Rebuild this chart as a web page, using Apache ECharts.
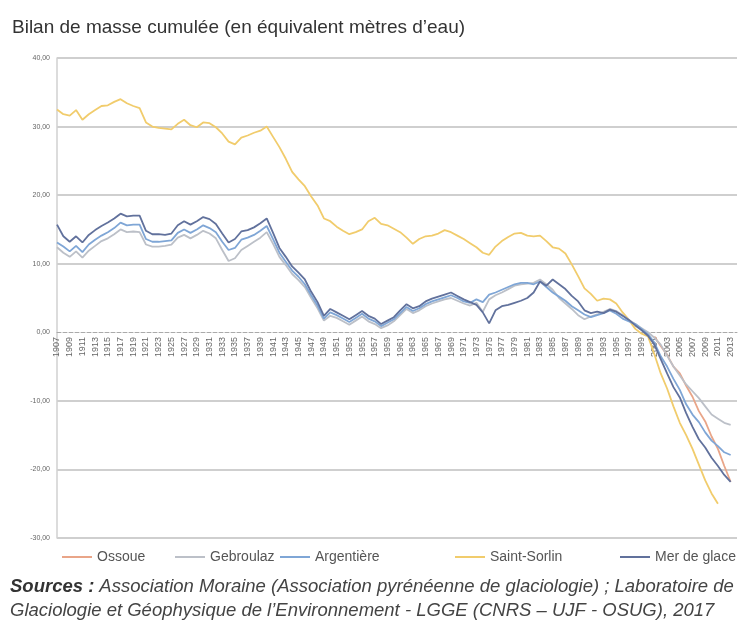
<!DOCTYPE html>
<html>
<head>
<meta charset="utf-8">
<title>Bilan de masse cumulée</title>
<script src="https://cdn.jsdelivr.net/npm/echarts@6/dist/echarts.min.js"></script>
<style>
  * { margin: 0; padding: 0 }
  html, body { width: 100%; height: 100%; background: #fff; }
  #main { width: 753px; height: 631px; }
</style>
</head>
<body>
<div id="main"></div>
<script>
// annees 1907 -> 2014 (etiquettes une annee sur deux)
var years = [];
for (var y = 1907; y <= 2014; y++) years.push(String(y));

var saintSorlin = [
  32.5, 31.8, 31.6, 32.4, 31.0, 31.8, 32.4, 33.0, 33.1, 33.6,
  34.0, 33.4, 33.0, 32.7, 30.6, 30.0, 29.8, 29.7, 29.6, 30.4,
  31.0, 30.2, 29.9, 30.6, 30.5, 29.9, 29.0, 27.8, 27.4, 28.4,
  28.7, 29.1, 29.4, 30.0, 28.5, 27.0, 25.3, 23.4, 22.3, 21.3,
  19.8, 18.5, 16.6, 16.2, 15.4, 14.8, 14.3, 14.6, 15.0, 16.2,
  16.7, 15.8, 15.6, 15.1, 14.6, 13.8, 12.9, 13.6, 14.0, 14.1,
  14.4, 14.9, 14.6, 14.1, 13.6, 13.0, 12.4, 11.6, 11.3, 12.5,
  13.3, 13.9, 14.4, 14.5, 14.1, 14.0, 14.1, 13.3, 12.4, 12.2,
  11.5, 9.9, 8.2, 6.4, 5.6, 4.6, 4.9, 4.8, 4.2, 2.9,
  1.8, 0.5, -0.2, -0.6, -3.2, -6.0, -8.2, -10.8, -13.2, -15.0,
  -17.0, -19.3, -21.6, -23.5, -25.0
];

var merDeGlace = [
  15.7, 14.0, 13.2, 14.0, 13.1, 14.2, 14.9, 15.5, 16.0, 16.6,
  17.3, 16.9, 17.0, 17.0, 14.8, 14.3, 14.3, 14.2, 14.4, 15.6,
  16.2, 15.7, 16.2, 16.8, 16.5, 15.8, 14.4, 13.1, 13.6, 14.7,
  14.9, 15.3, 15.9, 16.6, 14.5, 12.3, 11.0, 9.6, 8.7, 7.7,
  5.9, 4.4, 2.4, 3.4, 2.9, 2.4, 1.9, 2.5, 3.1, 2.4,
  2.0, 1.2, 1.7, 2.2, 3.2, 4.1, 3.5, 3.8, 4.5, 4.9,
  5.2, 5.5, 5.8, 5.3, 4.8, 4.4, 4.0, 2.9, 1.3, 3.2,
  3.8, 4.0, 4.3, 4.6, 5.0, 5.8, 7.4, 6.8, 7.7, 7.0,
  6.3, 5.3, 4.5, 3.2, 2.8, 3.0, 2.8, 3.3, 3.0, 2.4,
  1.8, 1.0, 0.3, -0.5, -1.8, -3.9, -6.0, -8.0, -9.5, -11.8,
  -13.8, -15.6, -16.8, -18.3, -19.5, -20.8, -21.8
];

var argentiere = [
  13.1, 12.5, 11.8, 12.6, 11.7, 12.8, 13.5, 14.1, 14.6, 15.2,
  16.0, 15.6, 15.7, 15.7, 13.6, 13.2, 13.2, 13.3, 13.4, 14.5,
  15.0, 14.5, 15.0, 15.6, 15.2, 14.6, 13.2, 12.0, 12.3, 13.5,
  13.8, 14.2, 14.8, 15.5, 13.6, 11.6, 10.3, 9.0, 8.1, 7.0,
  5.4, 3.9, 2.0, 2.9, 2.5, 2.0, 1.5, 2.1, 2.7, 2.0,
  1.6, 0.9, 1.4, 1.9, 2.8, 3.7, 3.1, 3.5, 4.1, 4.5,
  4.8, 5.1, 5.4, 5.0, 4.5, 4.3, 4.8, 4.4, 5.5, 5.8,
  6.2, 6.6, 7.0, 7.2, 7.2, 7.0, 7.4, 6.6, 5.8, 5.2,
  4.6, 3.8, 3.2, 2.6, 2.2, 2.5, 2.8, 3.2, 2.7, 2.0,
  1.6, 1.2, 0.5, -0.3, -1.5, -3.5, -5.0, -6.8, -8.4, -10.5,
  -12.0, -13.1, -14.6, -15.8, -16.6, -17.5, -17.9
];

var gebroulaz = [
  12.4, 11.6, 11.0, 11.8, 10.9, 11.9, 12.6, 13.3, 13.7, 14.3,
  15.0, 14.6, 14.7, 14.6, 12.8, 12.5, 12.5, 12.6, 12.8, 13.8,
  14.2, 13.7, 14.2, 14.8, 14.4, 13.7, 12.0, 10.4, 10.8, 12.0,
  12.6, 13.2, 13.8, 14.6, 12.9, 11.0, 9.8, 8.5, 7.6, 6.6,
  5.0, 3.5, 1.7, 2.4, 2.1, 1.6, 1.1, 1.7, 2.3, 1.6,
  1.2, 0.6, 1.0, 1.6, 2.5, 3.4, 2.8, 3.2, 3.8, 4.2,
  4.5, 4.8, 5.0, 4.6, 4.2, 3.9, 4.3, 3.0, 4.8, 5.4,
  5.8, 6.3, 6.8, 7.0, 7.1, 7.2, 7.7, 7.0, 6.2, 5.0,
  4.2, 3.4, 2.5, 1.9, 2.3, 2.6, 3.0, 3.4, 3.1, 2.5,
  1.8, 1.2, 0.6, 0.0, -0.8, -1.8, -3.4, -5.0, -6.3, -7.6,
  -8.6, -9.6, -10.8, -12.0, -12.6, -13.2, -13.5
];

// Ossoue : mesures a partir de 2001
var ossoueStart = '2001';
var ossoue = [-0.6, -2.0, -3.3, -5.0, -6.0, -7.8, -9.4, -11.5, -13.0, -15.2, -17.0, -19.5, -21.8];

var names = ['Ossoue', 'Gebroulaz', 'Argentière', 'Saint-Sorlin', 'Mer de glace'];
var colors = ['#e9a588', '#bcc0c8', '#7fa6d6', '#f1cc6c', '#61719c'];
var legendLeft = [57, 170, 275, 450, 615];

var ossoueData = [];
var off = years.indexOf(ossoueStart);
for (var i = 0; i < off; i++) ossoueData.push(null);
ossoueData = ossoueData.concat(ossoue);

var seriesData = [ossoueData, gebroulaz, argentiere, saintSorlin, merDeGlace];

var chart = echarts.init(document.getElementById('main'));

var legends = names.map(function (n, i) {
  return {
    data: [n],
    left: legendLeft[i],
    top: 545,
    icon: 'rect',
    itemWidth: 30,
    itemHeight: 2,
    itemGap: 0,
    textStyle: { fontSize: 14, color: '#555', fontFamily: 'Liberation Sans' }
  };
});

chart.setOption({
  backgroundColor: '#fff',
  animation: false,
  title: [{
    text: 'Bilan de masse cumulée (en équivalent mètres d’eau)',
    left: 7,
    top: 13,
    textStyle: { fontSize: 19, fontWeight: 'normal', color: '#333', fontFamily: 'Liberation Sans' }
  }, {
    text: '{b|Sources :} {i|Association Moraine (Association pyrénéenne de glaciologie) ; Laboratoire de}\n{i|Glaciologie et Géophysique de l’Environnement - LGGE (CNRS – UJF - OSUG), 2017}',
    left: 5,
    top: 570,
    textStyle: {
      fontWeight: 'normal',
      rich: {
        b: { fontSize: 18.5, fontWeight: 'bold', fontStyle: 'italic', color: '#333', fontFamily: 'Liberation Sans', lineHeight: 24 },
        i: { fontSize: 18.5, fontWeight: 'normal', fontStyle: 'italic', color: '#444', fontFamily: 'Liberation Sans', lineHeight: 24 }
      }
    }
  }],
  legend: legends,
  grid: { left: 57, right: 16, top: 58, bottom: 93 },
  xAxis: {
    type: 'category',
    data: years,
    boundaryGap: false,
    position: 'bottom',
    offset: -206,
    axisLine: { onZero: false, lineStyle: { color: '#aaa', type: 'dashed', width: 1 } },
    axisTick: { show: false },
    axisLabel: { interval: 1, rotate: 90, fontSize: 9, color: '#666', margin: 5, fontFamily: 'Liberation Sans' },
    splitLine: { show: false }
  },
  yAxis: {
    type: 'value',
    min: -30,
    max: 40,
    interval: 10,
    axisLine: { show: true, lineStyle: { color: '#d0d0d0', width: 1.5 } },
    axisTick: { show: false },
    axisLabel: {
      fontSize: 7,
      color: '#666',
      margin: 7,
      fontFamily: 'Liberation Sans',
      formatter: function (v) { return v.toFixed(2).replace('.', ','); }
    },
    splitLine: { lineStyle: { color: ['#cfcfcf', '#cfcfcf', '#cfcfcf', 'rgba(0,0,0,0)', '#cfcfcf', '#cfcfcf', '#cfcfcf', '#cfcfcf'], width: 2 } }
  },
  series: names.map(function (n, i) {
    return {
      name: n,
      type: 'line',
      data: seriesData[i],
      showSymbol: false,
      symbol: 'none',
      connectNulls: false,
      lineStyle: { width: 1.8, color: colors[i] },
      itemStyle: { color: colors[i] },
      z: i === 3 ? 1 : 2
    };
  })
});
</script>
</body>
</html>
